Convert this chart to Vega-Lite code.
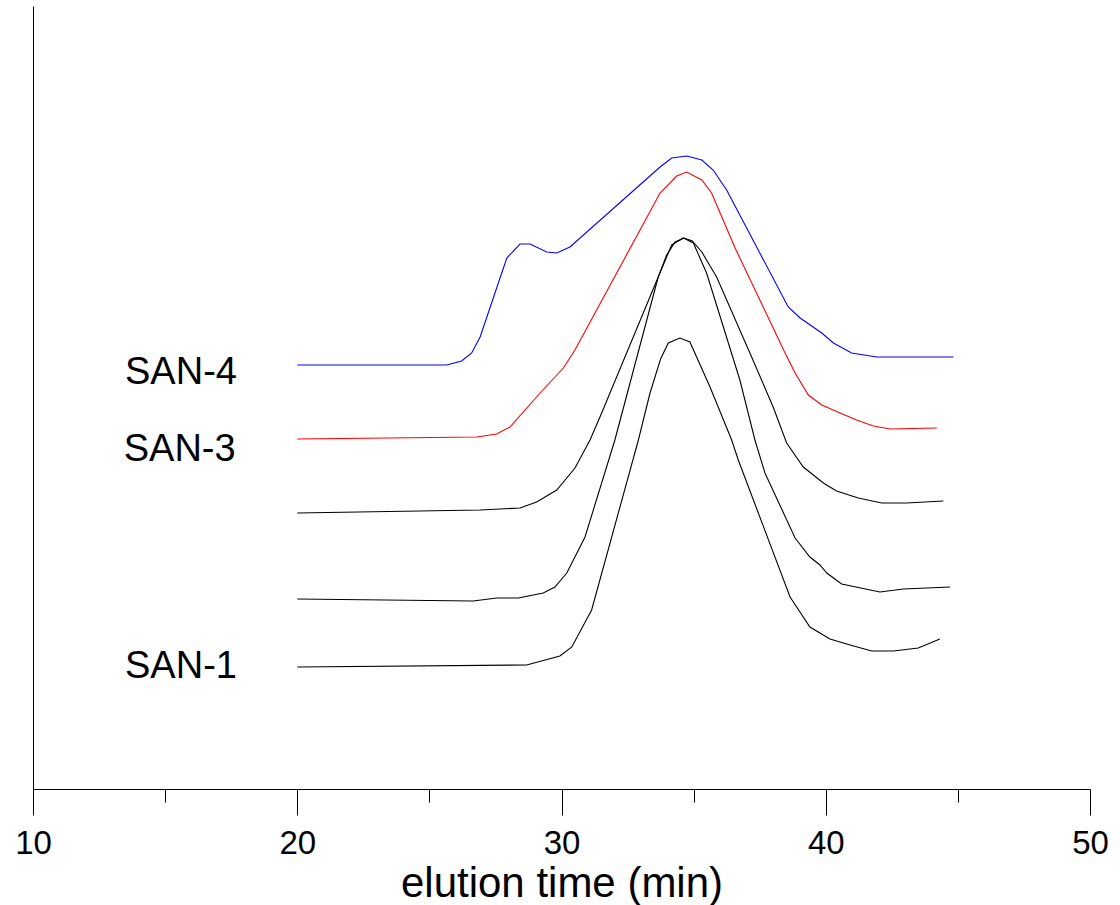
{
  "$schema": "https://vega.github.io/schema/vega-lite/v6.json",
  "width": 1057,
  "height": 783,
  "autosize": {"type": "none"},
  "padding": {"left": 33, "top": 6, "right": 30, "bottom": 116},
  "background": "white",
  "config": {
    "view": {"stroke": null},
    "font": "Liberation Sans"
  },
  "datasets": {
    "curves": [
      {"series": "SAN-4", "t": 20.0, "v": 424},
      {"series": "SAN-4", "t": 25.66, "v": 424},
      {"series": "SAN-4", "t": 26.22, "v": 428},
      {"series": "SAN-4", "t": 26.6, "v": 436},
      {"series": "SAN-4", "t": 26.92, "v": 452},
      {"series": "SAN-4", "t": 27.93, "v": 531},
      {"series": "SAN-4", "t": 28.43, "v": 545},
      {"series": "SAN-4", "t": 28.81, "v": 545},
      {"series": "SAN-4", "t": 29.44, "v": 537},
      {"series": "SAN-4", "t": 29.82, "v": 536},
      {"series": "SAN-4", "t": 30.32, "v": 542},
      {"series": "SAN-4", "t": 33.73, "v": 622},
      {"series": "SAN-4", "t": 34.17, "v": 631},
      {"series": "SAN-4", "t": 34.74, "v": 633},
      {"series": "SAN-4", "t": 35.31, "v": 629},
      {"series": "SAN-4", "t": 35.74, "v": 619},
      {"series": "SAN-4", "t": 36.25, "v": 599},
      {"series": "SAN-4", "t": 38.58, "v": 482},
      {"series": "SAN-4", "t": 39.03, "v": 471},
      {"series": "SAN-4", "t": 39.85, "v": 456},
      {"series": "SAN-4", "t": 40.29, "v": 446},
      {"series": "SAN-4", "t": 40.98, "v": 436},
      {"series": "SAN-4", "t": 41.93, "v": 432},
      {"series": "SAN-4", "t": 44.83, "v": 432},

      {"series": "SAN-3", "t": 20.0, "v": 350},
      {"series": "SAN-3", "t": 26.79, "v": 352},
      {"series": "SAN-3", "t": 27.55, "v": 355},
      {"series": "SAN-3", "t": 28.05, "v": 362},
      {"series": "SAN-3", "t": 29.19, "v": 396},
      {"series": "SAN-3", "t": 30.07, "v": 421},
      {"series": "SAN-3", "t": 30.51, "v": 439},
      {"series": "SAN-3", "t": 33.73, "v": 596},
      {"series": "SAN-3", "t": 34.36, "v": 613},
      {"series": "SAN-3", "t": 34.74, "v": 617},
      {"series": "SAN-3", "t": 35.31, "v": 609},
      {"series": "SAN-3", "t": 35.68, "v": 596},
      {"series": "SAN-3", "t": 36.57, "v": 541},
      {"series": "SAN-3", "t": 38.46, "v": 436},
      {"series": "SAN-3", "t": 38.84, "v": 416},
      {"series": "SAN-3", "t": 39.34, "v": 394},
      {"series": "SAN-3", "t": 39.85, "v": 384},
      {"series": "SAN-3", "t": 40.54, "v": 376},
      {"series": "SAN-3", "t": 41.17, "v": 369},
      {"series": "SAN-3", "t": 41.8, "v": 363},
      {"series": "SAN-3", "t": 42.43, "v": 360},
      {"series": "SAN-3", "t": 44.2, "v": 361},

      {"series": "SAN-2b", "t": 20.0, "v": 276},
      {"series": "SAN-2b", "t": 26.92, "v": 279},
      {"series": "SAN-2b", "t": 28.43, "v": 281},
      {"series": "SAN-2b", "t": 29.06, "v": 287},
      {"series": "SAN-2b", "t": 29.82, "v": 299},
      {"series": "SAN-2b", "t": 30.51, "v": 321},
      {"series": "SAN-2b", "t": 31.08, "v": 349},
      {"series": "SAN-2b", "t": 31.52, "v": 376},
      {"series": "SAN-2b", "t": 33.66, "v": 512},
      {"series": "SAN-2b", "t": 33.98, "v": 534},
      {"series": "SAN-2b", "t": 34.3, "v": 547},
      {"series": "SAN-2b", "t": 34.64, "v": 551},
      {"series": "SAN-2b", "t": 34.95, "v": 548},
      {"series": "SAN-2b", "t": 35.31, "v": 537},
      {"series": "SAN-2b", "t": 35.87, "v": 512},
      {"series": "SAN-2b", "t": 37.13, "v": 436},
      {"series": "SAN-2b", "t": 38.01, "v": 382},
      {"series": "SAN-2b", "t": 38.52, "v": 346},
      {"series": "SAN-2b", "t": 39.15, "v": 322},
      {"series": "SAN-2b", "t": 39.91, "v": 306},
      {"series": "SAN-2b", "t": 40.41, "v": 298},
      {"series": "SAN-2b", "t": 41.23, "v": 291},
      {"series": "SAN-2b", "t": 42.12, "v": 286},
      {"series": "SAN-2b", "t": 43.06, "v": 286},
      {"series": "SAN-2b", "t": 44.45, "v": 288},

      {"series": "SAN-2a", "t": 20.0, "v": 190},
      {"series": "SAN-2a", "t": 26.66, "v": 188},
      {"series": "SAN-2a", "t": 27.55, "v": 191},
      {"series": "SAN-2a", "t": 28.37, "v": 191},
      {"series": "SAN-2a", "t": 29.31, "v": 196},
      {"series": "SAN-2a", "t": 29.75, "v": 202},
      {"series": "SAN-2a", "t": 30.2, "v": 216},
      {"series": "SAN-2a", "t": 30.89, "v": 252},
      {"series": "SAN-2a", "t": 32.02, "v": 349},
      {"series": "SAN-2a", "t": 33.66, "v": 512},
      {"series": "SAN-2a", "t": 34.17, "v": 544},
      {"series": "SAN-2a", "t": 34.61, "v": 551},
      {"series": "SAN-2a", "t": 34.99, "v": 546},
      {"series": "SAN-2a", "t": 35.49, "v": 516},
      {"series": "SAN-2a", "t": 36.75, "v": 409},
      {"series": "SAN-2a", "t": 37.32, "v": 349},
      {"series": "SAN-2a", "t": 37.7, "v": 316},
      {"series": "SAN-2a", "t": 38.84, "v": 251},
      {"series": "SAN-2a", "t": 39.4, "v": 232},
      {"series": "SAN-2a", "t": 39.78, "v": 224},
      {"series": "SAN-2a", "t": 40.04, "v": 216},
      {"series": "SAN-2a", "t": 40.6, "v": 205},
      {"series": "SAN-2a", "t": 42.05, "v": 197},
      {"series": "SAN-2a", "t": 42.94, "v": 200},
      {"series": "SAN-2a", "t": 44.7, "v": 202},

      {"series": "SAN-1", "t": 20.0, "v": 122},
      {"series": "SAN-1", "t": 28.68, "v": 124},
      {"series": "SAN-1", "t": 29.94, "v": 133},
      {"series": "SAN-1", "t": 30.39, "v": 142},
      {"series": "SAN-1", "t": 31.14, "v": 179},
      {"series": "SAN-1", "t": 32.91, "v": 349},
      {"series": "SAN-1", "t": 33.35, "v": 396},
      {"series": "SAN-1", "t": 33.75, "v": 430},
      {"series": "SAN-1", "t": 34.04, "v": 446},
      {"series": "SAN-1", "t": 34.48, "v": 451},
      {"series": "SAN-1", "t": 34.86, "v": 447},
      {"series": "SAN-1", "t": 35.62, "v": 402},
      {"series": "SAN-1", "t": 36.44, "v": 349},
      {"series": "SAN-1", "t": 36.69, "v": 329},
      {"series": "SAN-1", "t": 38.65, "v": 192},
      {"series": "SAN-1", "t": 39.4, "v": 162},
      {"series": "SAN-1", "t": 40.16, "v": 150},
      {"series": "SAN-1", "t": 40.92, "v": 144},
      {"series": "SAN-1", "t": 41.74, "v": 138},
      {"series": "SAN-1", "t": 42.56, "v": 138},
      {"series": "SAN-1", "t": 43.5, "v": 141},
      {"series": "SAN-1", "t": 44.32, "v": 150}
    ],
    "labels": [
      {"label": "SAN-4", "t": 15.6, "v": 416},
      {"label": "SAN-3", "t": 15.55, "v": 339},
      {"label": "SAN-1", "t": 15.6, "v": 122}
    ]
  },
  "layer": [
    {
      "data": {"name": "curves"},
      "mark": {"type": "line", "strokeWidth": 1.1, "interpolate": "linear"},
      "encoding": {
        "x": {
          "field": "t",
          "type": "quantitative",
          "scale": {"domain": [10, 50], "nice": false, "zero": false},
          "axis": {
            "values": [10, 15, 20, 25, 30, 35, 40, 45, 50],
            "labelExpr": "datum.value % 10 === 0 ? datum.label : ''",
            "tickSize": {"condition": {"test": "datum.value % 10 === 0", "value": 26}, "value": 13},
            "tickColor": "black",
            "tickWidth": 1,
            "domainColor": "black",
            "domainWidth": 1,
            "grid": false,
            "labelFontSize": 33,
            "labelFont": "Liberation Sans",
            "labelColor": "black",
            "labelPadding": 12,
            "labelFlush": false,
            "labelOverlap": false,
            "title": "elution time (min)",
            "titleFont": "Liberation Sans",
            "titleFontSize": 42,
            "titleFontWeight": "normal",
            "titleColor": "black",
            "titlePadding": 3
          }
        },
        "y": {
          "field": "v",
          "type": "quantitative",
          "scale": {"domain": [0, 783], "nice": false},
          "axis": {
            "ticks": false,
            "labels": false,
            "grid": false,
            "title": null,
            "domainColor": "black",
            "domainWidth": 1
          }
        },
        "color": {
          "field": "series",
          "type": "nominal",
          "scale": {
            "domain": ["SAN-4", "SAN-3", "SAN-2b", "SAN-2a", "SAN-1"],
            "range": ["#0000ff", "#ff0000", "#000000", "#000000", "#000000"]
          },
          "legend": null
        }
      }
    },
    {
      "data": {"name": "labels"},
      "mark": {"type": "text", "font": "Liberation Sans", "fontSize": 38, "align": "center", "baseline": "middle", "color": "black"},
      "encoding": {
        "x": {"field": "t", "type": "quantitative"},
        "y": {"field": "v", "type": "quantitative"},
        "text": {"field": "label"}
      }
    }
  ]
}
